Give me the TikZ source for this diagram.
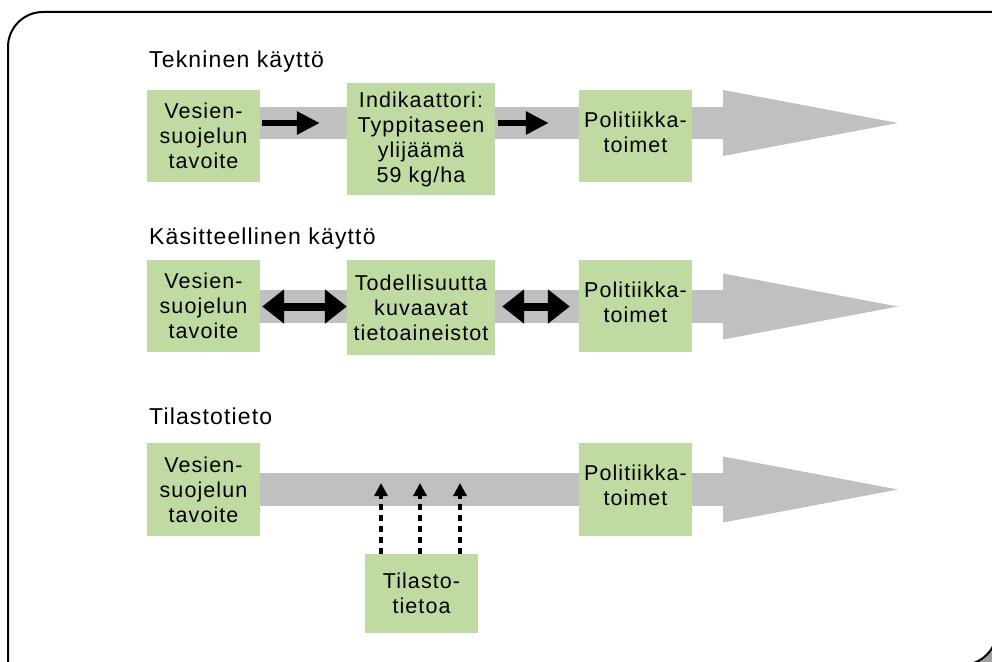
\documentclass[tikz,border=0pt]{standalone}
\usepackage{fontspec}
\setmainfont{Liberation Sans}[LetterSpace=5]
\usetikzlibrary{arrows.meta}
\definecolor{boxgreen}{RGB}{192,219,161}
\definecolor{bandgray}{RGB}{192,192,192}
\definecolor{cornergray}{RGB}{160,160,160}
\begin{document}
\begin{tikzpicture}[x=1pt,y=-1pt,
  box/.style={fill=boxgreen, inner sep=0pt, align=center, minimum width=113pt, minimum height=92pt,
    font=\fontsize{21.5}{25}\selectfont},
  boxtext/.style={inner sep=0pt, align=center, font=\fontsize{21.5}{25}\selectfont},
  heading/.style={anchor=base west, inner sep=0pt, font=\fontsize{23}{27}\selectfont},
  band/.style={fill=bandgray},
  onearrow/.style={line width=6pt, -{Triangle[length=23pt,width=22pt]}},
  twoarrow/.style={line width=8pt, {Triangle[length=22pt,width=33pt]}-{Triangle[length=22pt,width=33pt]}},
  dotarrow/.style={line width=4pt, dash pattern=on 6pt off 5pt, -{Triangle[length=13pt,width=13pt]}},
  frame/.style={line width=2pt, draw=black}
]
\useasboundingbox (0,0) rectangle (992,661);
\clip (0,0) rectangle (992,661);
% frame
\fill[white] (0,0) rectangle (992,661);
\fill[cornergray] (997,630) arc[start angle=0, end angle=90, radius=35] -- (962,700) -- (1100,700) -- (1100,630) -- cycle;
\draw[frame] (997,630) arc[start angle=0, end angle=90, radius=35];
\draw[frame] (8,700) -- (8,47) arc[start angle=180, end angle=270, radius=35] -- (1100,12);

% headings
\node[heading] (h1) at (149,67) {Tekninen käyttö};
\node[heading] (h2) at (149,244) {Käsitteellinen käyttö};
\node[heading] (h3) at (149,424) {Tilastotieto};

% bands
\fill[band] (204,107) rectangle (724,139);
\fill[band] (723,90) -- (898,123) -- (723,156) -- cycle;
\fill[band] (204,290) rectangle (724,323);
\fill[band] (723,273.5) -- (898,306.5) -- (723,339.5) -- cycle;
\fill[band] (204,473) rectangle (724,506);
\fill[band] (723,456.5) -- (898,489.5) -- (723,522.5) -- cycle;
\coordinate (r1) at (0,123);
\coordinate (r2) at (0,306.5);

% row 1
\node[box] (a1) at (203.5,136) {Vesien-\\suojelun\\tavoite};
\node[box, minimum width=148pt, minimum height=112pt] (b1) at (421,139) {Indikaattori:\\Typpitaseen\\ylijäämä\\59 kg/ha};
\node[box, label={[boxtext, yshift=4pt]center:Politiikka-\\toimet}] (c1) at (635.5,136) {};
\draw[onearrow, shorten <=2pt, shorten >=27pt] (a1.east |- r1) -- (b1.west |- r1);
\draw[onearrow, shorten <=3pt, shorten >=30pt] (b1.east |- r1) -- (c1.west |- r1);

% row 2
\node[box] (a2) at (203.5,306) {Vesien-\\suojelun\\tavoite};
\node[box, minimum width=148pt, minimum height=95pt] (b2) at (421,307.5) {Todellisuutta\\kuvaavat\\tietoaineistot};
\node[box, label={[boxtext, yshift=4pt]center:Politiikka-\\toimet}] (c2) at (635.5,306) {};
\draw[twoarrow, shorten <=2pt, shorten >=0pt] (a2.east |- r2) -- (b2.west |- r2);
\draw[twoarrow, shorten <=7pt, shorten >=9pt] (b2.east |- r2) -- (c2.west |- r2);

% row 3
\node[box, minimum height=93pt] (a3) at (203.5,489.5) {Vesien-\\suojelun\\tavoite};
\node[box, minimum height=93pt, label={[boxtext, yshift=4pt]center:Politiikka-\\toimet}] (c3) at (635.5,489.5) {};
\node[box, minimum height=79pt] (d) at (421.5,593.5) {Tilasto-\\tietoa};
\coordinate (t1) at (381,483);
\coordinate (t2) at (420,483);
\coordinate (t3) at (460,483);
\draw[dotarrow] (d.north -| t1) -- (t1);
\draw[dotarrow] (d.north -| t2) -- (t2);
\draw[dotarrow] (d.north -| t3) -- (t3);
\end{tikzpicture}
\end{document}
